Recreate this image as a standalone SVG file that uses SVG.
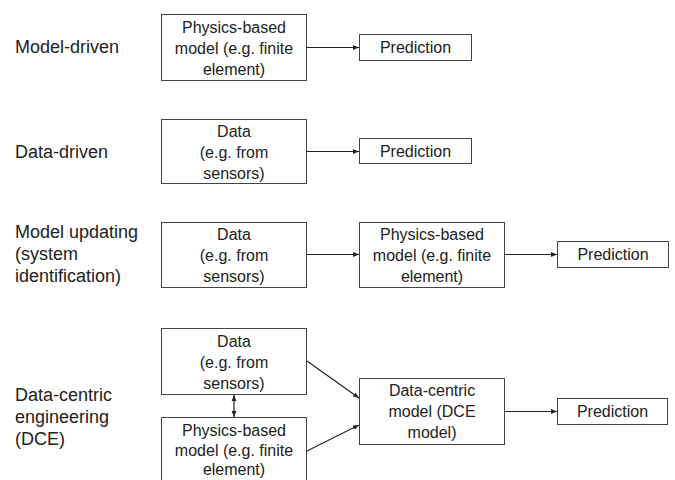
<svg xmlns="http://www.w3.org/2000/svg" width="675" height="480" viewBox="0 0 675 480">
<defs>
<marker id="ah" viewBox="0 0 10 10" refX="10" refY="5" markerWidth="6" markerHeight="6" orient="auto-start-reverse" markerUnits="userSpaceOnUse">
<path d="M0,1 L10,5 L0,9 z" fill="#222"/>
</marker>
</defs>
<style>
.box{fill:#fff;stroke:#444;stroke-width:1}
.t{font-family:"Liberation Sans",Arial,sans-serif;font-size:16px;fill:#222;text-anchor:middle}
.lab{font-family:"Liberation Sans",Arial,sans-serif;font-size:18px;fill:#222}
.c{stroke:#222;stroke-width:1.2;fill:none;marker-end:url(#ah)}
</style>
<rect width="675" height="480" fill="#fff"/>
<g id="labels">
<text class="lab" x="15" y="53">Model-driven</text>
<text class="lab" x="15" y="158">Data-driven</text>
<text class="lab" x="15" y="238">Model updating</text>
<text class="lab" x="15" y="260">(system</text>
<text class="lab" x="15" y="282">identification)</text>
<text class="lab" x="15" y="401">Data-centric</text>
<text class="lab" x="15" y="423">engineering</text>
<text class="lab" x="15" y="445">(DCE)</text>
</g>
<g id="r1-model">
<rect class="box" x="161.5" y="14.5" width="145" height="66"/>
<text class="t" x="234" y="33">Physics-based</text>
<text class="t" x="234" y="54">model (e.g. finite</text>
<text class="t" x="234" y="75">element)</text>
</g>
<g id="r1-pred">
<rect class="box" x="359.5" y="34.5" width="112" height="26"/>
<text class="t" x="415.5" y="53">Prediction</text>
</g>
<g id="r2-data">
<rect class="box" x="161.5" y="119.5" width="145" height="64"/>
<text class="t" x="234" y="137">Data</text>
<text class="t" x="234" y="158">(e.g. from</text>
<text class="t" x="234" y="179">sensors)</text>
</g>
<g id="r2-pred">
<rect class="box" x="359.5" y="138.5" width="112" height="25"/>
<text class="t" x="415.5" y="157">Prediction</text>
</g>
<g id="r3-data">
<rect class="box" x="161.5" y="222.5" width="145" height="65"/>
<text class="t" x="234" y="240">Data</text>
<text class="t" x="234" y="261">(e.g. from</text>
<text class="t" x="234" y="282">sensors)</text>
</g>
<g id="r3-model">
<rect class="box" x="359.5" y="222.5" width="145" height="65"/>
<text class="t" x="432" y="240">Physics-based</text>
<text class="t" x="432" y="261">model (e.g. finite</text>
<text class="t" x="432" y="282">element)</text>
</g>
<g id="r3-pred">
<rect class="box" x="557.5" y="241.5" width="111" height="26"/>
<text class="t" x="613" y="260">Prediction</text>
</g>
<g id="r4-data">
<rect class="box" x="161.5" y="328.5" width="145" height="66"/>
<text class="t" x="234" y="347">Data</text>
<text class="t" x="234" y="368">(e.g. from</text>
<text class="t" x="234" y="389">sensors)</text>
</g>
<g id="r4-model">
<rect class="box" x="161.5" y="417.5" width="145" height="68"/>
<text class="t" x="234" y="436">Physics-based</text>
<text class="t" x="234" y="456">model (e.g. finite</text>
<text class="t" x="234" y="475">element)</text>
</g>
<g id="r4-dce">
<rect class="box" x="359.5" y="378.5" width="145" height="66"/>
<text class="t" x="432" y="396">Data-centric</text>
<text class="t" x="432" y="417">model (DCE</text>
<text class="t" x="432" y="438">model)</text>
</g>
<g id="r4-pred">
<rect class="box" x="557.5" y="398.5" width="110" height="26"/>
<text class="t" x="612.5" y="417">Prediction</text>
</g>
<g id="connectors">
<line class="c" x1="306.5" y1="47.5" x2="359" y2="47.5"/>
<line class="c" x1="306.5" y1="151.5" x2="359" y2="151.5"/>
<line class="c" x1="306.5" y1="254.5" x2="359" y2="254.5"/>
<line class="c" x1="504.5" y1="254.5" x2="557" y2="254.5"/>
<line class="c" x1="504.5" y1="411.5" x2="557" y2="411.5"/>
<line class="c" x1="307" y1="361" x2="359" y2="398"/>
<line class="c" x1="307" y1="451" x2="359" y2="425"/>
<line class="c" x1="234" y1="395" x2="234" y2="417" marker-start="url(#ah)"/>
</g>
</svg>
